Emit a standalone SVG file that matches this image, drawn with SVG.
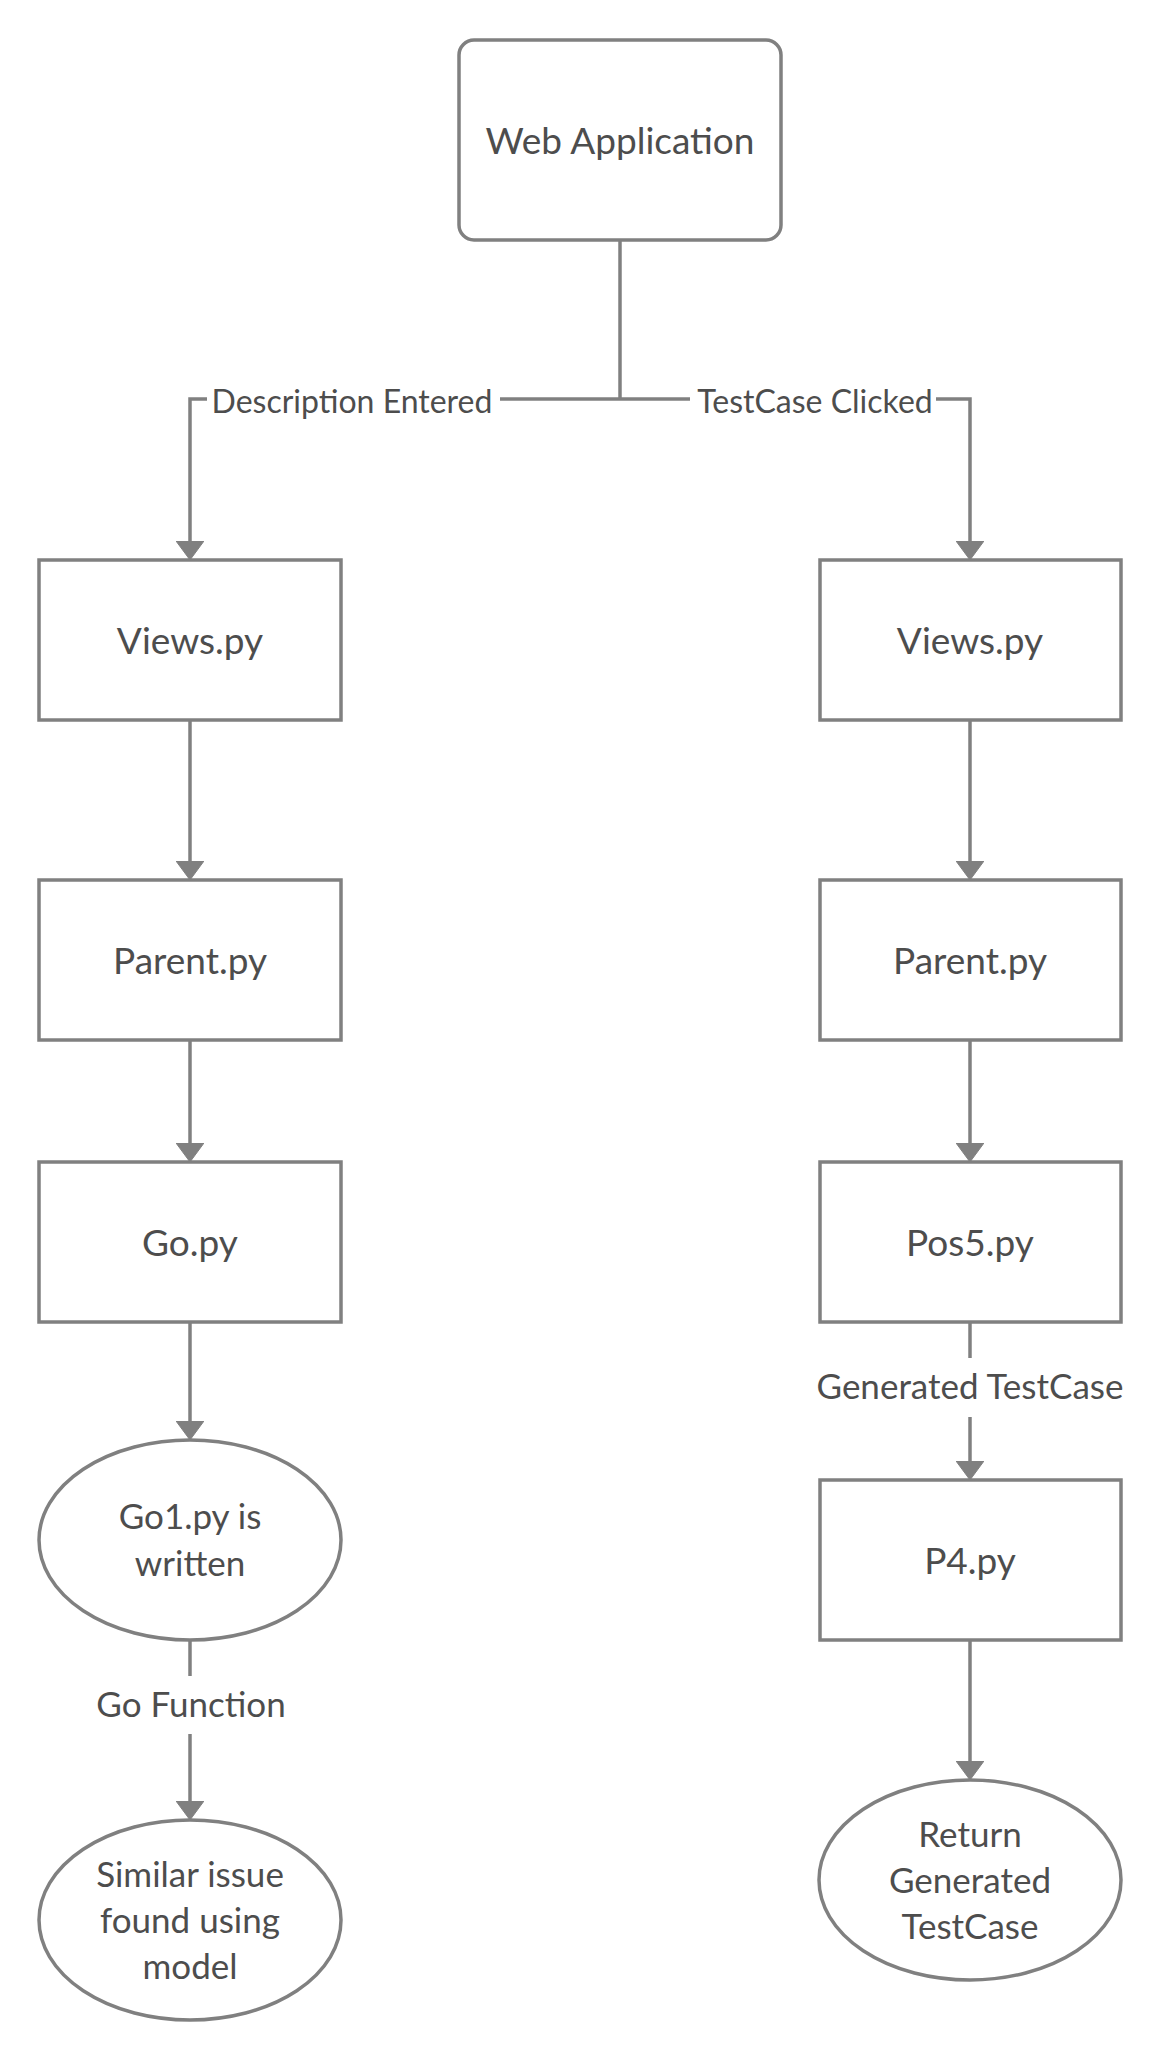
<svg xmlns="http://www.w3.org/2000/svg" width="1163" height="2060" viewBox="0 0 1163 2060">
<style>
.node{fill:#ffffff;stroke:#808080;stroke-width:3.5}
.line{fill:none;stroke:#808080;stroke-width:3.5}
.t{font-family:Lato,"Liberation Sans",sans-serif;fill:#4d4d4d;text-anchor:middle}
.big{font-size:37px}
.sm{font-size:35px}
.lbl{font-size:32px}
</style>
<defs>
<marker id="arr" markerUnits="userSpaceOnUse" viewBox="0 0 20 28" markerWidth="20" markerHeight="28" refX="4" refY="14" orient="auto">
<path d="M0,0 L19,14 L0,28 z" fill="#808080" stroke="#808080" stroke-width="1" stroke-linejoin="round"/>
</marker>
</defs>
<rect width="1163" height="2060" fill="#ffffff"/>
<g id="connectors">
<path class="line" d="M620,240 V399"/>
<path class="line" d="M620,399 H500"/>
<path class="line" d="M207,399 H190 V545" marker-end="url(#arr)"/>
<path class="line" d="M620,399 H690"/>
<path class="line" d="M936,399 H970 V545" marker-end="url(#arr)"/>
<path class="line" d="M190,720 V865" marker-end="url(#arr)"/>
<path class="line" d="M190,1040 V1147" marker-end="url(#arr)"/>
<path class="line" d="M190,1322 V1425" marker-end="url(#arr)"/>
<path class="line" d="M190,1640 V1676"/>
<path class="line" d="M190,1734 V1805" marker-end="url(#arr)"/>
<path class="line" d="M970,720 V865" marker-end="url(#arr)"/>
<path class="line" d="M970,1040 V1147" marker-end="url(#arr)"/>
<path class="line" d="M970,1322 V1358"/>
<path class="line" d="M970,1417 V1465" marker-end="url(#arr)"/>
<path class="line" d="M970,1640 V1765" marker-end="url(#arr)"/>
<text class="t lbl" x="352" y="413">Description Entered</text>
<text class="t lbl" x="815" y="413">TestCase Clicked</text>
<text class="t sm" x="191" y="1717">Go Function</text>
<text class="t sm" x="970" y="1399">Generated TestCase</text>
</g>
<g id="web-application">
<rect class="node" x="459" y="40" width="322" height="200" rx="15"/>
<text class="t big" x="620" y="154">Web Application</text>
</g>
<g id="views-left">
<rect class="node" x="39" y="560" width="302" height="160"/>
<text class="t big" x="190" y="654">Views.py</text>
</g>
<g id="parent-left">
<rect class="node" x="39" y="880" width="302" height="160"/>
<text class="t big" x="190" y="974">Parent.py</text>
</g>
<g id="go">
<rect class="node" x="39" y="1162" width="302" height="160"/>
<text class="t big" x="190" y="1256">Go.py</text>
</g>
<g id="go1">
<ellipse class="node" cx="190" cy="1540" rx="151" ry="100"/>
<text class="t sm" x="190" y="1529">Go1.py is</text>
<text class="t sm" x="190" y="1576">written</text>
</g>
<g id="similar-issue">
<ellipse class="node" cx="190" cy="1920" rx="151" ry="100"/>
<text class="t sm" x="190" y="1887">Similar issue</text>
<text class="t sm" x="190" y="1933">found using</text>
<text class="t sm" x="190" y="1979">model</text>
</g>
<g id="views-right">
<rect class="node" x="820" y="560" width="301" height="160"/>
<text class="t big" x="970" y="654">Views.py</text>
</g>
<g id="parent-right">
<rect class="node" x="820" y="880" width="301" height="160"/>
<text class="t big" x="970" y="974">Parent.py</text>
</g>
<g id="pos5">
<rect class="node" x="820" y="1162" width="301" height="160"/>
<text class="t big" x="970" y="1256">Pos5.py</text>
</g>
<g id="p4">
<rect class="node" x="820" y="1480" width="301" height="160"/>
<text class="t big" x="970" y="1574">P4.py</text>
</g>
<g id="return-testcase">
<ellipse class="node" cx="970" cy="1880" rx="151" ry="100"/>
<text class="t sm" x="970" y="1847">Return</text>
<text class="t sm" x="970" y="1893">Generated</text>
<text class="t sm" x="970" y="1939">TestCase</text>
</g>
</svg>
